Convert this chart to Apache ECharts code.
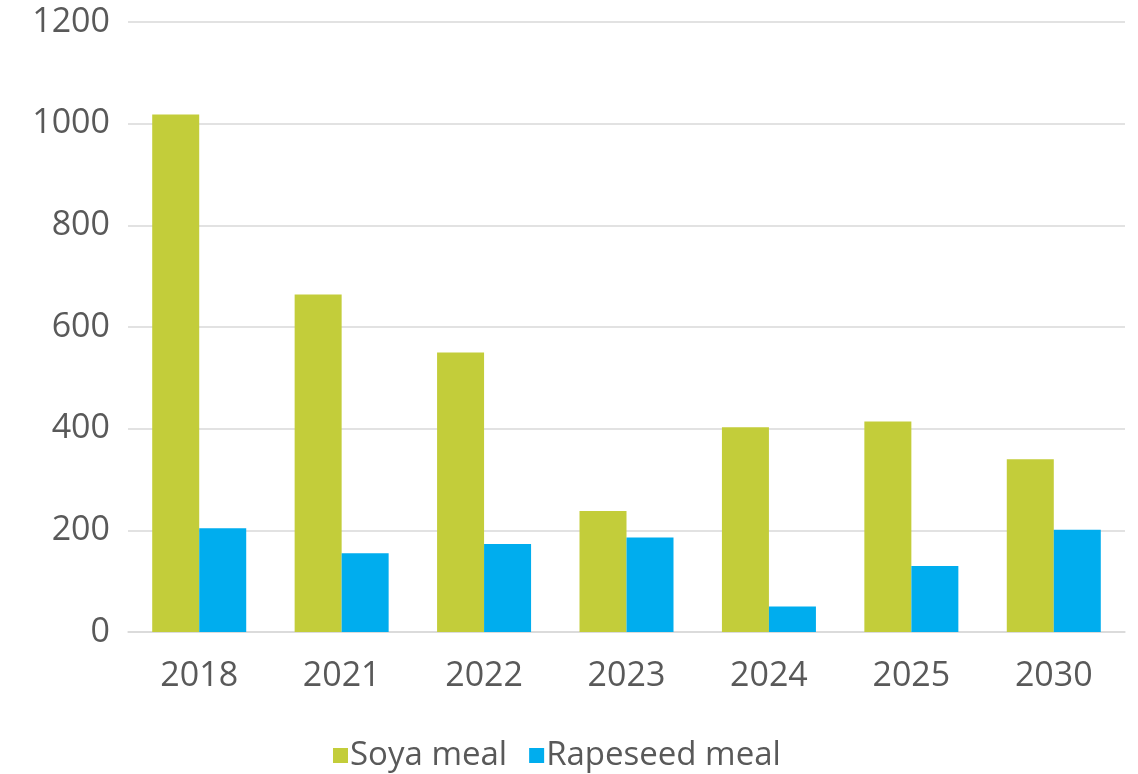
<!DOCTYPE html>
<html>
<head>
<meta charset="utf-8">
<script src="https://cdn.jsdelivr.net/npm/echarts@6/dist/echarts.min.js"></script>
<style>
  html, body { margin: 0; padding: 0; background: #ffffff; }
  #chart { width: 1138px; height: 774px; }
</style>
</head>
<body>
<div id="chart"></div>
<script>
// Years on the category axis
const years = ['2018', '2021', '2022', '2023', '2024', '2025', '2030'];
// Soya meal values per year
const soyaMeal = [1018, 664, 550, 238, 403, 414, 340];
// Rapeseed meal values per year
const rapeseedMeal = [204, 155, 173, 186, 50, 130, 201];
// Value axis range and step
const yMin = 0;
const yMax = 1200;
const yStep = 200;

const textColor = '#595959';
const fontFamily = '"Open Sans", "Noto Sans", sans-serif';

const chart = echarts.init(document.getElementById('chart'), null, { renderer: 'canvas' });

chart.setOption({
  animation: false,
  backgroundColor: '#ffffff',
  grid: { left: 128, right: 13, top: 22, bottom: 142, containLabel: false },
  legend: {
    data: ['Soya meal', 'Rapeseed meal'],
    left: 328,
    top: 734,
    itemWidth: 15,
    itemHeight: 15,
    itemGap: 22,
    icon: 'rect',
    textStyle: { color: textColor, fontSize: 33, fontFamily: fontFamily, padding: [0, 0, 0, -3] }
  },
  xAxis: {
    type: 'category',
    data: years,
    axisLine: { show: true, lineStyle: { color: '#d9d9d9', width: 1.5 } },
    axisTick: { show: false },
    axisLabel: { color: textColor, fontSize: 34, fontFamily: fontFamily, margin: 27 }
  },
  yAxis: {
    type: 'value',
    min: yMin,
    max: yMax,
    interval: yStep,
    axisLine: { show: false },
    axisTick: { show: false },
    splitLine: { lineStyle: { color: '#d9d9d9', width: 1.5 } },
    axisLabel: {
      color: textColor,
      fontSize: 34,
      fontFamily: fontFamily,
      margin: 18,
      formatter: (v) => String(v)
    }
  },
  series: [
    {
      name: 'Soya meal',
      type: 'bar',
      data: soyaMeal,
      barWidth: '33%',
      barGap: '0%',
      itemStyle: { color: '#c3cd3a' }
    },
    {
      name: 'Rapeseed meal',
      type: 'bar',
      data: rapeseedMeal,
      barWidth: '33%',
      barGap: '0%',
      itemStyle: { color: '#00adee' }
    }
  ]
});
</script>
</body>
</html>
